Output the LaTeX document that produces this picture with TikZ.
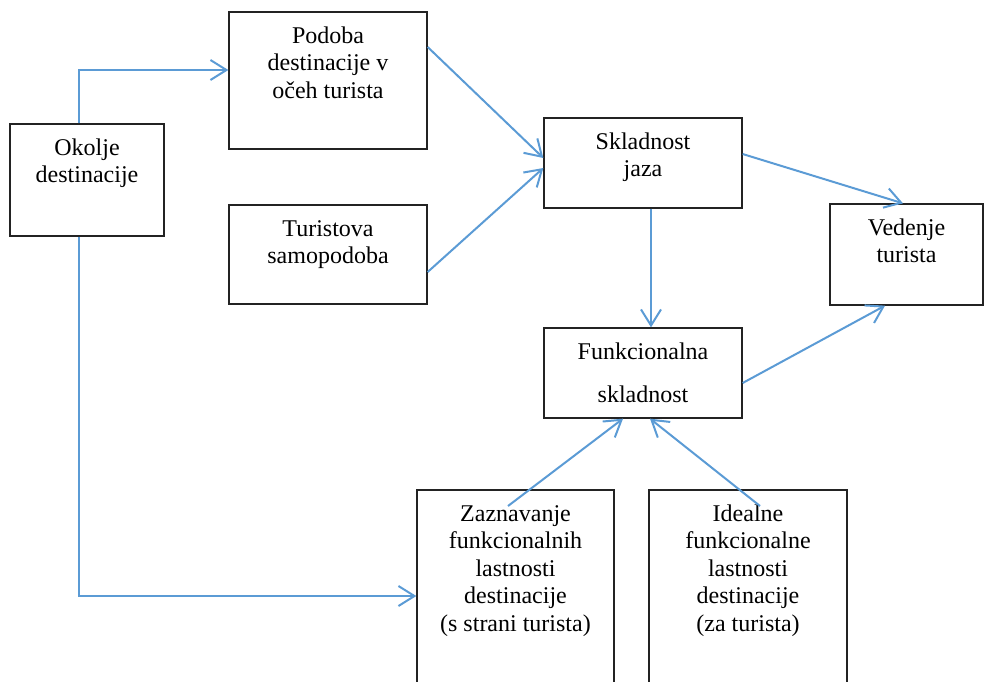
\documentclass[tikz,border=0pt]{standalone}
\usepackage{fontspec}
\setmainfont{Liberation Serif}
\usetikzlibrary{arrows.meta}
\definecolor{flow}{RGB}{91,155,213}
\definecolor{frame}{RGB}{35,35,35}
% box content: width, height, lines (first baseline 31pt below the top edge)
\newcommand{\boxlines}[3]{\parbox[c][#2][t]{#1}{\centering\rule{0pt}{31pt}#3\par}}
\tikzset{
  box/.style={draw=frame, line width=1.3pt, inner sep=0pt, fill=white,
    font=\fontsize{24}{27.6}\selectfont},
  conn/.style={draw=flow, line width=2pt,
    -{Straight Barb[length=16pt,width=20pt,line width=2pt]}},
}
\begin{document}
\begin{tikzpicture}[x=1pt,y=-1pt]
\useasboundingbox (0,0) rectangle (984,681);
\begin{scope}
\clip (0,0) rectangle (984,681);
\node[box] (okolje) at (87,180) {\boxlines{154pt}{112pt}{Okolje\\destinacije}};
\node[box] (podoba) at (328,80.5) {\boxlines{198pt}{137pt}{Podoba\\destinacije v\\očeh turista}};
\node[box] (turistova) at (328,254.5) {\boxlines{198pt}{99pt}{Turistova\\samopodoba}};
\node[box] (skladnost) at (643,163) {\boxlines{198pt}{90pt}{Skladnost\\jaza}};
\node[box] (vedenje) at (906.5,254.5) {\boxlines{153pt}{101pt}{Vedenje\\turista}};
\node[box] (funkc) at (643,373) {\boxlines{198pt}{90pt}{Funkcionalna\\[15.4pt]skladnost}};
\node[box] (zaznavanje) at (515.5,596) {\boxlines{197pt}{212pt}{Zaznavanje\\funkcionalnih\\lastnosti\\destinacije\\(s strani turista)}};
\node[box] (idealne) at (748,596) {\boxlines{198pt}{212pt}{Idealne\\funkcionalne\\lastnosti\\destinacije\\(za turista)}};

\draw[conn] ([xshift=-8pt]okolje.north) |- ([yshift=10.5pt]podoba.west);
\draw[conn] ([xshift=-8pt]okolje.south) |- (zaznavanje.west);
\draw[conn] ([yshift=33.5pt]podoba.east) -- ([yshift=5pt]skladnost.west);
\draw[conn] ([yshift=-17.5pt]turistova.east) -- ([yshift=-5pt]skladnost.west);
\draw[conn] ([xshift=8pt]skladnost.south) -- ([xshift=8pt]funkc.north);
\draw[conn] ([yshift=9pt]skladnost.east) -- ([xshift=-3.5pt]vedenje.north);
\draw[conn] ([yshift=-10pt]funkc.east) -- ([xshift=-21.5pt]vedenje.south);
\draw[conn] ([shift={(-7.5pt,90pt)}]zaznavanje.center) -- ([xshift=-20pt]funkc.south);
\draw[conn] ([shift={(12pt,90pt)}]idealne.center) -- ([xshift=7pt]funkc.south);
\end{scope}
\end{tikzpicture}
\end{document}
